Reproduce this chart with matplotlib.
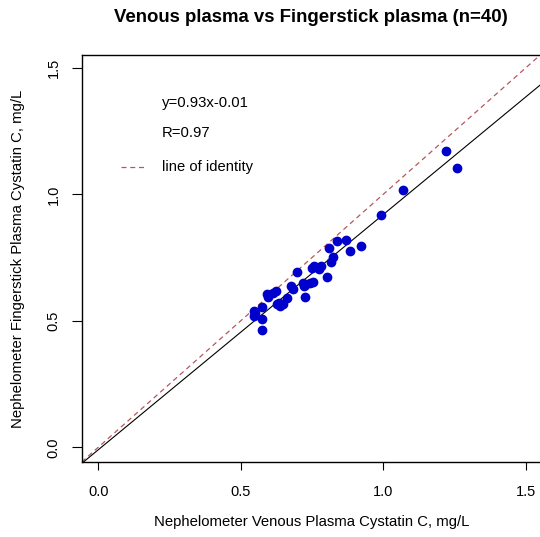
import matplotlib
matplotlib.use("Agg")
import matplotlib.pyplot as plt
import numpy as np

plt.rcParams['font.family'] = ['Liberation Sans', 'DejaVu Sans']

venous = [0.839, 0.868, 0.921, 0.808, 0.883, 0.822, 0.815, 0.780, 0.775, 0.749,
          0.802, 0.698, 0.752, 0.743, 0.717, 0.722, 0.725, 0.676, 0.682, 0.661,
          0.622, 0.614, 0.591, 0.596, 0.649, 0.629, 0.638, 0.575, 0.547, 0.546,
          0.575, 0.573, 1.219, 1.260, 1.070, 0.991, 0.550, 0.757, 0.725, 0.634]
finger = [0.817, 0.820, 0.797, 0.787, 0.777, 0.751, 0.732, 0.718, 0.705, 0.710,
          0.672, 0.692, 0.652, 0.648, 0.648, 0.638, 0.595, 0.638, 0.625, 0.592,
          0.618, 0.611, 0.606, 0.593, 0.567, 0.567, 0.559, 0.556, 0.539, 0.519,
          0.507, 0.464, 1.173, 1.106, 1.017, 0.920, 0.531, 0.715, 0.641, 0.571]
slope = 0.93
intercept = -0.01
ticks = [0.0, 0.5, 1.0, 1.5]
tick_labels = ["0.0", "0.5", "1.0", "1.5"]

W, H = 540, 537
fig = plt.figure(figsize=(W/100, H/100), dpi=100)
x0, x1 = -0.058, 1.56
y0, y1 = -0.057, 1.552
left_px, right_px = 81.7, 81.7 + (x1 - x0) * 285
top_px, bot_px = 54.7, 461.7
ax = fig.add_axes([left_px/W, 1 - bot_px/H, (right_px-left_px)/W, (bot_px-top_px)/H])
ax.set_xlim(x0, x1)
ax.set_ylim(y0, y1)

xs = np.array([x0, x1])
ax.plot(xs, xs, linestyle=(0, (4, 3)), color='#b8565e', lw=0.9)
ax.plot(xs, slope*xs + intercept, color='black', lw=0.8)
ax.plot(venous, finger, 'o', color='#0000cc', ms=6, mec='#0000cc')

ax.set_xticks(ticks)
ax.set_xticklabels(tick_labels)
ax.set_yticks(ticks)
ax.set_yticklabels(tick_labels, rotation=90, va='center')
ax.tick_params(axis='x', length=6, width=0.8, labelsize=10.5, colors='black', pad=11)
ax.tick_params(axis='y', length=7, width=0.8, labelsize=10.5, colors='black', pad=8)
for s in ax.spines.values():
    s.set_linewidth(1.0)

ax.text(162/W, 1 - 103/H, "y=0.93x-0.01", transform=fig.transFigure, fontsize=10.7, va='center', ha='left')
ax.text(162/W, 1 - 133/H, "R=0.97", transform=fig.transFigure, fontsize=10.7, va='center', ha='left')
fig.add_artist(plt.Line2D([121/W, 147/W], [1 - 167/H, 1 - 167/H], linestyle=(0, (4, 3)), color='#b8565e', lw=0.9))
ax.text(162/W, 1 - 167/H, "line of identity", transform=fig.transFigure, fontsize=10.6, va='center', ha='left')

fig.text(311/W, 1 - 18/H, "Venous plasma vs Fingerstick plasma (n=40)", fontsize=13.4, fontweight='bold', ha='center', va='center')
fig.text(312/W, 1 - 522/H, "Nephelometer Venous Plasma Cystatin C, mg/L", fontsize=10.7, ha='center', va='center')
fig.text(18/W, 1 - 259/H, "Nephelometer Fingerstick Plasma Cystatin C, mg/L", fontsize=10.7, ha='center', va='center', rotation=90)

fig.savefig("out.png", dpi=100)
